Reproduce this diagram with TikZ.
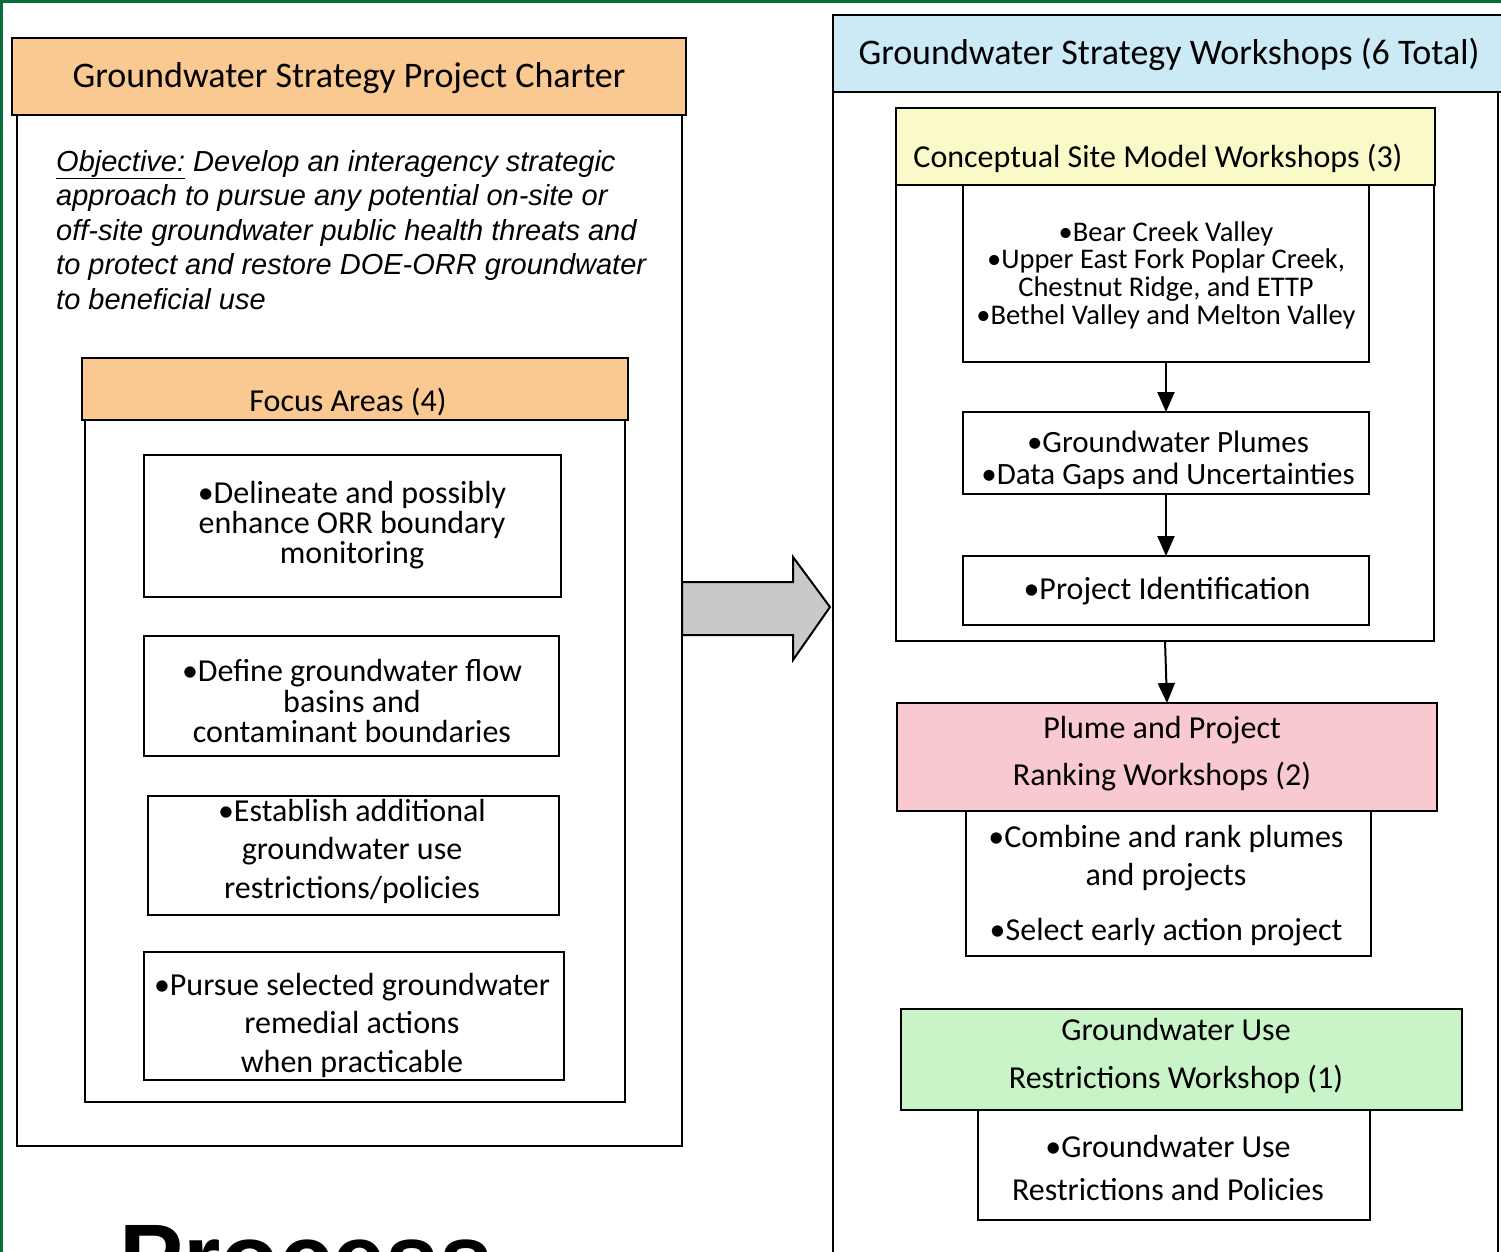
\documentclass[tikz,border=0pt]{standalone}
\usepackage{fontspec}
\setmainfont{Carlito}
\newfontfamily\arialf{Liberation Sans}
\usetikzlibrary{arrows.meta}
\definecolor{hdrorange}{HTML}{FAC992}
\definecolor{hdrblue}{HTML}{CCE9F6}
\definecolor{hdryellow}{HTML}{FAFAC8}
\definecolor{hdrpink}{HTML}{F8C9CE}
\definecolor{hdrgreen}{HTML}{C8F4C8}
\definecolor{framegreen}{HTML}{0B6B3A}
\definecolor{arrowgray}{HTML}{C9C9C9}
\begin{document}
\begin{tikzpicture}[x=1pt,y=-1pt,
  box/.style={draw=black, line width=2pt, rectangle, inner sep=0pt, outer sep=0pt, anchor=north west, fill=white},
  hdr/.style={box, line width=2.8pt},
  txt/.style={align=center, inner sep=0pt, font=\fontsize{32}{30}\selectfont},
  hdrtxt/.style={inner sep=0pt, font=\fontsize{36}{40}\selectfont},
  arr/.style={-{Triangle[length=20pt,width=17pt]}, line width=2pt},
]
\useasboundingbox (0,0) rectangle (1501,1252);
\clip (0,0) rectangle (1501,1252);
\fill[white] (0,0) rectangle (1501,1252);
% green frame
\draw[framegreen, line width=3pt] (1.5,1252) -- (1.5,1.5) -- (1501,1.5);

% ---------- left: charter ----------
\node[box, minimum width=665pt, minimum height=1031pt] (charterbody) at (17,115) {};
\node[hdr, fill=hdrorange, minimum width=674pt, minimum height=77pt] (charterhdr) at (12,38) {};
\node[hdrtxt] (chartertxt) at (349,78) {Groundwater Strategy Project Charter};

\node[anchor=north west, inner sep=0pt, align=left,
      font=\arialf\itshape\fontsize{29}{34.5}\selectfont] (objective) at (56,150)
  {\underline{Objective:} Develop an interagency strategic\\
   approach to pursue any potential on-site or\\
   off-site groundwater public health threats and\\
   to protect and restore DOE-ORR groundwater\\
   to beneficial use};

\node[box, minimum width=540pt, minimum height=682pt] (focusbody) at (85,420) {};
\node[hdr, fill=hdrorange, minimum width=546pt, minimum height=62pt] (focushdr) at (82,358) {};
\node[txt] (focustxt) at (348,402) {Focus Areas (4)};

\node[box, minimum width=417pt, minimum height=142pt] (fa1) at (144,455) {};
\node[txt] (fa1txt) at (352,525) {\textbullet Delineate and possibly\\enhance ORR boundary\\monitoring};
\node[box, minimum width=415pt, minimum height=120pt] (fa2) at (144,636) {};
\node[txt] (fa2txt) at (352,701) {\textbullet Define groundwater flow\\basins and\\contaminant boundaries};
\node[box, minimum width=411pt, minimum height=119pt] (fa3) at (148,796) {};
\node[txt, font=\fontsize{32}{38.5}\selectfont] (fa3txt) at (352,851) {\textbullet Establish additional\\groundwater use\\restrictions/policies};
\node[box, minimum width=420pt, minimum height=128pt] (fa4) at (144,952) {};
\node[txt, font=\fontsize{32}{38.5}\selectfont] (fa4txt) at (352,1025) {\textbullet Pursue selected groundwater\\remedial actions\\when practicable};

% ---------- big arrow ----------
\draw[line width=2pt, fill=arrowgray] (682,582) -- (793,582) -- (793,557) -- (830,607) -- (793,660) -- (793,635) -- (682,635) -- cycle;

% ---------- right: workshops ----------
\node[box, minimum width=665pt, minimum height=1180pt] (wsbody) at (833,92) {};
\node[hdr, fill=hdrblue, minimum width=672pt, minimum height=77pt] (wshdr) at (833,15) {};
\node[hdrtxt] (wstxt) at (1169,54) {Groundwater Strategy Workshops (6 Total)};

\node[box, minimum width=538pt, minimum height=456pt] (csmbody) at (896,185) {};
\node[hdr, fill=hdryellow, minimum width=539pt, minimum height=77pt] (csmhdr) at (896,108) {};
\node[txt] (csmtxt) at (1158,158) {Conceptual Site Model Workshops (3)};

\node[box, minimum width=406pt, minimum height=177pt] (csm1) at (963,185) {};
\node[txt, font=\fontsize{28.5}{27.7}\selectfont] (csm1txt) at (1166,275) {\textbullet Bear Creek Valley\\\textbullet Upper East Fork Poplar Creek,\\Chestnut Ridge, and ETTP\\\textbullet Bethel Valley and Melton Valley};
\node[box, minimum width=406pt, minimum height=82pt] (csm2) at (963,412) {};
\node[txt, font=\fontsize{31}{32}\selectfont] (csm2txt) at (1168,460) {\textbullet Groundwater Plumes\\\textbullet Data Gaps and Uncertainties};
\node[box, minimum width=406pt, minimum height=69pt] (csm3) at (963,556) {};
\node[txt] (csm3txt) at (1167,591) {\textbullet Project Identification};

\node[hdr, fill=hdrpink, minimum width=540pt, minimum height=108pt] (pinkhdr) at (897,703) {};
\node[txt, font=\fontsize{32}{47}\selectfont] (pinktxt) at (1162,754) {Plume and Project\\Ranking Workshops (2)};
\node[box, minimum width=405pt, minimum height=145pt] (pinkbody) at (966,811) {};
\node[txt, font=\fontsize{32}{38}\selectfont] (pinkbodytxt) at (1166,886) {\textbullet Combine and rank plumes\\and projects\\[17pt]\textbullet Select early action project};

\node[hdr, fill=hdrgreen, minimum width=561pt, minimum height=101pt] (greenhdr) at (901,1009) {};
\node[txt, font=\fontsize{32}{48}\selectfont] (greentxt) at (1176,1056) {Groundwater Use\\Restrictions Workshop (1)};
\node[box, minimum width=392pt, minimum height=110pt] (greenbody) at (978,1110) {};
\node[txt, font=\fontsize{32}{43}\selectfont] (greenbodytxt) at (1168,1168) {\textbullet Groundwater Use\\Restrictions and Policies};

% connectors
\draw[arr] (csm1.south) -- (csm2.north);
\draw[arr] (csm2.south) -- (csm3.north);
\draw[arr] (csmbody.south) -- (pinkhdr.north);

% cut-off title
\node[anchor=base west, inner sep=0pt, font=\arialf\bfseries\fontsize{96}{96}\selectfont] (proctxt) at (119,1291) {Process};
\end{tikzpicture}
\end{document}
